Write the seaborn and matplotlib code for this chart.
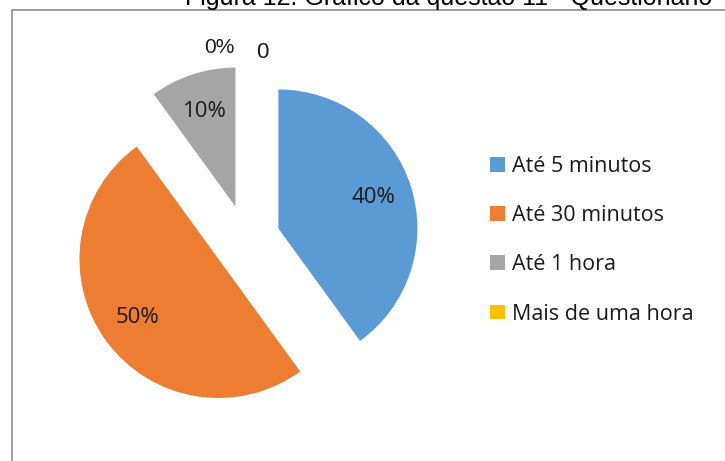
import matplotlib
matplotlib.use("Agg")
import matplotlib.pyplot as plt
import seaborn as sns
from matplotlib.patches import Rectangle

categories = ["Até 5 minutos", "Até 30 minutos", "Até 1 hora", "Mais de uma hora"]
values = [40, 50, 10, 0]
colors = ["#5B9BD5", "#ED7D31", "#A5A5A5", "#FFC000"]
title = "Figura 12: Gráfico da questão 11 - Questionário"
zero_extra_label = "0"

sns.set_theme(style="white")
plt.rcParams["font.family"] = ["Open Sans", "DejaVu Sans"]
narrow = ["Liberation Sans Narrow", "Liberation Sans", "DejaVu Sans"]

fig = plt.figure(figsize=(7.25, 4.61), dpi=100)
ax = fig.add_axes([0, 0, 1, 1])

wedges, texts, autotexts = ax.pie(
    values, colors=colors, startangle=90, counterclock=False,
    explode=[0.245] * len(values), radius=1.0,
    autopct=lambda p: f"{p:.0f}%", pctdistance=0.72,
    textprops=dict(fontsize=16, color="#1a1a1a"),
    wedgeprops=dict(linewidth=0),
)
# zero slice label placement
for t, v in zip(autotexts, values):
    if v == 0:
        t.set_position((-0.19, 1.38))
        t.set_fontfamily(narrow)
        t.set_fontsize(15)
        ax.text(0.115, 1.345, zero_extra_label, ha="center", va="center",
                fontsize=16, color="#1a1a1a", family=narrow)

W, H, cx, cy, r = 725, 461, 246, 239, 139
ax.set_xlim(-cx / r, (W - cx) / r)
ax.set_ylim(-(H - cy) / r, cy / r)
ax.set_aspect("auto")
ax.axis("off")

leg = ax.legend(wedges, categories, loc="upper left",
                bbox_to_anchor=(490 / W, 1 - 156 / H), bbox_transform=fig.transFigure,
                frameon=False, fontsize=15.5, handlelength=0.68, handleheight=0.68,
                handletextpad=0.35, labelspacing=1.31, borderaxespad=0, borderpad=0)
for t in leg.get_texts():
    t.set_color("#1a1a1a")

# chart border (partially cropped)
fig.patches.append(Rectangle((12 / W, -0.1), 1.2, 1 - 10 / H + 0.1,
                             transform=fig.transFigure, fill=False,
                             edgecolor="#8c8c8c", linewidth=1.2))

fig.text(185 / W, 1 - 5 / H, title, ha="left", va="baseline", fontsize=18,
         family=["Liberation Sans", "DejaVu Sans"], color="black")

fig.savefig("out.png", dpi=100)
